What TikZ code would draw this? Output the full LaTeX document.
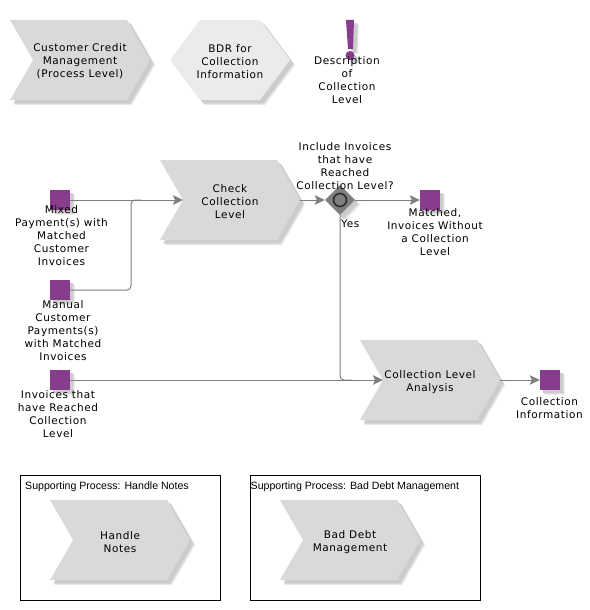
\documentclass[tikz,border=0pt]{standalone}
\usepackage{fontspec}
\setmainfont[LetterSpace=5.5]{DejaVu Sans}
\newfontfamily\boxfont{Liberation Sans}
\usetikzlibrary{arrows.meta,shapes.geometric,calc}
\definecolor{chevfill}{HTML}{D8D9DB}
\definecolor{hexfill}{HTML}{EBEBEB}
\definecolor{objpurple}{HTML}{873C8C}
\definecolor{linegrey}{HTML}{7F7F7F}
\tikzset{
  lbl/.style={align=center,inner sep=0pt,text=black,yshift=-0.9pt,font=\fontsize{10.5}{13}\selectfont},
  boxlbl/.style={anchor=west,inner sep=0pt,text=black,font=\boxfont\fontsize{10.6}{13}\selectfont},
  conn/.style={draw=linegrey,line width=1pt,-{Stealth[length=10pt,width=9.5pt,inset=2pt,fill=linegrey]}},
  plainconn/.style={draw=linegrey,line width=1pt},
  anchorbox/.style={minimum width=140pt,minimum height=80pt,inner sep=0pt},
  objbox/.style={rectangle,fill=objpurple,minimum size=20pt,inner sep=0pt},
  suppbox/.style={draw=black,line width=0.8pt,fill=white},
}
% soft offset shadow for any closed path given in absolute pixel coordinates
\newcommand\softshade[1]{%
  \fill[black!8,shift={(5,5)}] #1;
  \fill[black!13,shift={(4.3,4.3)}] #1;
  \fill[black!20,shift={(3.4,3.4)}] #1;
}
% chevron: name, left x, centre y
\newcommand\chevron[3]{%
  \def\chevpath{(#2,#3-40) -- (#2+117,#3-40) -- (#2+140,#3) -- (#2+117,#3+40) -- (#2,#3+40) -- (#2+23,#3) -- cycle}%
  \softshade{\chevpath}
  \fill[chevfill] \chevpath;
  \node[anchorbox] (#1) at (#2+70,#3) {};
  \coordinate (#1-in) at (#2+23,#3);
}
\newcommand\objsq[3]{%
  \softshade{(#2-10,#3-10) rectangle (#2+10,#3+10)}
  \node[objbox] (#1) at (#2,#3) {};
}
\begin{document}
\begin{tikzpicture}[x=1pt,y=-1pt]
\useasboundingbox (0,0) rectangle (589,610);
\fill[white] (0,0) rectangle (589,610);

% top row
\chevron{ccm}{10}{60}
\def\hexpath{(170,60) -- (200,20) -- (260,20) -- (290,60) -- (260,100) -- (200,100) -- cycle}
\softshade{\hexpath}
\fill[hexfill] \hexpath;
\node[minimum width=120pt,minimum height=80pt,inner sep=0pt] (bdr) at (230,60) {};

% exclamation mark
\def\exclpath{(346,20) -- (354,20) -- (353,49) -- (348,49) -- cycle}
\softshade{\exclpath}
\softshade{(350,55.5) circle (4.2)}
\fill[objpurple] \exclpath;
\node[circle,fill=objpurple,minimum size=9pt,inner sep=0pt] (excl) at (350,55.5) {};

% supporting boxes
\draw[suppbox] (20,475) rectangle (220,600);
\draw[suppbox] (250,475) rectangle (480,600);
\node[boxlbl] (supp1) at (25,487) {Supporting Process: Handle Notes};
\node[boxlbl] (supp2) at (250.5,487) {Supporting Process: Bad Debt Management};

% process shapes
\chevron{check}{160}{200}
\chevron{cla}{360}{380}
\chevron{handle}{50}{540}
\chevron{bad}{280}{540}

% objects
\objsq{mixed}{60}{200}
\objsq{manual}{60}{290}
\objsq{reached}{60}{380}
\objsq{matched}{430}{200}
\objsq{colinfo}{550}{380}

% gateway
\softshade{(340,185) -- (355,200) -- (340,215) -- (325,200) -- cycle}
\node[diamond,fill=linegrey,minimum width=30pt,minimum height=30pt,inner sep=0pt,aspect=1] (gate) at (340,200) {};

% connectors
\coordinate (merge) at (131,200);
\coordinate (mergeend) at (141,200);
\coordinate (turn) at (340,380);
\draw[conn] (mixed.east) -- (check-in);
\draw[plainconn,rounded corners=4pt] (manual.east) -| (merge) -- (mergeend);
\draw[conn] (check.east) -- (gate.west);
\draw[conn] (gate.east) -- (matched.west);
\draw[plainconn,rounded corners=4pt] (gate.south) -- (turn) -- ($(turn)+(12,0)$);
\draw[conn] (reached.east) -- (cla-in);
\draw[conn] (cla.east) -- (colinfo.west);

% gateway circle on top
\node[circle,draw=black!85,line width=1.5pt,fill=linegrey,minimum size=13pt,inner sep=0pt] (gatecirc) at (340,200) {};

% texts
\node[lbl] (t1) at (80,60) {Customer Credit\\Management\\(Process Level)};
\node[lbl] (t2) at (230,60.5) {BDR for\\Collection\\Information};
\node[lbl] (t3) at (347,79.5) {Description\\of\\Collection\\Level};
\node[lbl] (t4) at (345,165.5) {Include Invoices\\that have\\Reached\\Collection Level?};
\node[lbl] (t5) at (230,201) {Check\\Collection\\Level};
\node[lbl,anchor=west] (yes) at (341,223) {Yes};
\node[lbl] (t6) at (435,231.5) {Matched,\\Invoices Without\\a Collection\\Level};
\node[lbl] (t7) at (61.5,234.5) {Mixed\\Payment(s) with\\Matched\\Customer\\Invoices};
\node[lbl] (t8) at (63,329.5) {Manual\\Customer\\Payments(s)\\with Matched\\Invoices};
\node[lbl] (t9) at (58,413.5) {Invoices that\\have Reached\\Collection\\Level};
\node[lbl] (t10) at (430,381.5) {Collection Level\\Analysis};
\node[lbl] (t11) at (549.5,407.5) {Collection\\Information};
\node[lbl] (t12) at (120,541.5) {Handle\\Notes};
\node[lbl] (t13) at (350,541.5) {Bad Debt\\Management};
\end{tikzpicture}
\end{document}
